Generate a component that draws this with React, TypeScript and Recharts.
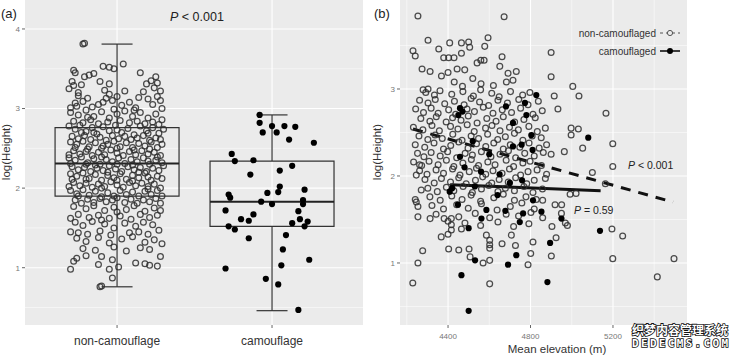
import { ScatterChart, Scatter, XAxis, YAxis, CartesianGrid, ReferenceLine, ReferenceArea } from 'recharts';

// panel (a): groups and box statistics
const groups = ['non-camouflage', 'camouflage'];
const boxLow = [0.76, 0.46];
const boxQ1 = [1.9, 1.52];
const boxMedian = [2.31, 1.83];
const boxQ3 = [2.76, 2.34];
const boxHigh = [3.81, 2.92];

// [jitter, log(Height)]
const nonCamoA: [number, number][] = [
  [-0.22, 3.81], [-0.21, 3.82],
  [0.04, 3.56], [-0.05, 3.52], [-0.09, 3.53], [-0.02, 3.5], [-0.28, 3.48], [-0.27, 3.45], [-0.18, 3.42], [-0.21, 3.4], [-0.15, 3.44], [0.15, 3.45], [0.25, 3.4], [0.22, 3.35], [0.19, 3.31],
  [-0.11, 3.34], [-0.29, 3.34], [-0.28, 3.29], [-0.23, 3.3], [-0.05, 3.31], [0.26, 3.32], [0.24, 3.26], [0.28, 3.22], [0.05, 3.22], [-0.08, 3.23], [0.17, 3.21], [-0.25, 3.2], [-0.31, 3.25],
  [-0.25, 3.16], [-0.19, 3.13], [0, 3.15], [-0.05, 3.18], [0.2, 3.12], [0.28, 3.1], [-0.3, 3.01], [-0.26, 3.03], [-0.27, 3.07], [-0.12, 3.05], [-0.09, 3.08], [-0.03, 3.1], [0.08, 3.08], [0.12, 3.01], [0.23, 3.05], [0.29, 3.0], [-0.16, 3.02], [0.14, 3.14], [-0.22, 3.09], [0.03, 3.04], [0.26, 3.15], [-0.07, 3.13],
  [-0.3, 2.95], [-0.25, 2.92], [-0.2, 2.98], [-0.15, 2.9], [-0.1, 2.96], [-0.05, 2.88], [0, 2.93], [0.05, 2.97], [0.1, 2.9], [0.15, 2.95], [0.2, 2.88], [0.25, 2.93], [0.29, 2.86], [-0.28, 2.84], [-0.22, 2.82], [-0.17, 2.86], [-0.12, 2.81], [-0.06, 2.83], [0.02, 2.85], [0.08, 2.82], [0.13, 2.84], [0.18, 2.81], [0.23, 2.83], [0.27, 2.8], [-0.02, 2.99], [0.11, 2.98], [-0.19, 2.89],
  [-0.31, 2.78], [-0.27, 2.74], [-0.24, 2.79], [-0.2, 2.71], [-0.16, 2.76], [-0.13, 2.68], [-0.09, 2.77], [-0.05, 2.72], [-0.01, 2.79], [0.03, 2.7], [0.07, 2.75], [0.11, 2.67], [0.15, 2.78], [0.19, 2.72], [0.23, 2.76], [0.27, 2.69], [0.3, 2.74], [-0.29, 2.65], [-0.25, 2.62], [-0.21, 2.66], [-0.17, 2.61], [-0.11, 2.64], [-0.07, 2.6], [-0.03, 2.66], [0.01, 2.62], [0.05, 2.65], [0.09, 2.61], [0.13, 2.63], [0.17, 2.66], [0.21, 2.6], [0.25, 2.63], [0.28, 2.61], [-0.15, 2.7], [0, 2.73], [0.2, 2.69], [-0.23, 2.7],
  [-0.3, 2.58], [-0.26, 2.55], [-0.22, 2.59], [-0.18, 2.52], [-0.14, 2.57], [-0.1, 2.5], [-0.06, 2.55], [-0.02, 2.59], [0.02, 2.52], [0.06, 2.57], [0.1, 2.51], [0.14, 2.56], [0.18, 2.53], [0.22, 2.58], [0.26, 2.51], [0.29, 2.55], [-0.28, 2.47], [-0.24, 2.43], [-0.2, 2.46], [-0.16, 2.41], [-0.12, 2.45], [-0.08, 2.42], [-0.04, 2.48], [0, 2.44], [0.04, 2.41], [0.08, 2.46], [0.12, 2.42], [0.16, 2.47], [0.2, 2.43], [0.24, 2.45], [0.28, 2.41], [-0.31, 2.42], [-0.09, 2.53], [0.11, 2.48], [-0.19, 2.49], [0.21, 2.49], [0, 2.5], [-0.27, 2.51],
  [-0.31, 2.38], [-0.27, 2.35], [-0.23, 2.39], [-0.19, 2.32], [-0.15, 2.37], [-0.11, 2.3], [-0.07, 2.36], [-0.03, 2.33], [0.01, 2.38], [0.05, 2.31], [0.09, 2.36], [0.13, 2.33], [0.17, 2.38], [0.21, 2.3], [0.25, 2.35], [0.29, 2.32], [-0.29, 2.27], [-0.25, 2.23], [-0.21, 2.26], [-0.17, 2.21], [-0.13, 2.25], [-0.09, 2.22], [-0.05, 2.28], [-0.01, 2.24], [0.03, 2.21], [0.07, 2.27], [0.11, 2.23], [0.15, 2.26], [0.19, 2.21], [0.23, 2.25], [0.27, 2.22], [0.3, 2.28], [-0.2, 2.3], [0, 2.3], [0.2, 2.34], [-0.1, 2.39], [0.1, 2.29], [-0.3, 2.31], [0.14, 2.2], [-0.14, 2.29], [0.26, 2.39], [-0.06, 2.2],
  [-0.3, 2.18], [-0.26, 2.15], [-0.22, 2.19], [-0.18, 2.12], [-0.14, 2.17], [-0.1, 2.1], [-0.06, 2.16], [-0.02, 2.13], [0.02, 2.18], [0.06, 2.11], [0.1, 2.16], [0.14, 2.13], [0.18, 2.19], [0.22, 2.1], [0.26, 2.15], [0.29, 2.12], [-0.28, 2.07], [-0.24, 2.03], [-0.2, 2.06], [-0.16, 2.01], [-0.12, 2.05], [-0.08, 2.02], [-0.04, 2.08], [0, 2.04], [0.04, 2.01], [0.08, 2.07], [0.12, 2.03], [0.16, 2.06], [0.2, 2.02], [0.24, 2.05], [0.28, 2.0], [-0.31, 2.02], [-0.1, 2.0], [0.1, 2.09], [0.2, 2.14], [-0.2, 2.11], [0, 2.1], [-0.29, 2.11],
  [-0.3, 1.97], [-0.26, 1.93], [-0.22, 1.98], [-0.18, 1.91], [-0.14, 1.96], [-0.1, 1.89], [-0.06, 1.94], [-0.02, 1.9], [0.02, 1.97], [0.06, 1.92], [0.1, 1.95], [0.14, 1.9], [0.18, 1.96], [0.22, 1.92], [0.26, 1.97], [0.29, 1.9], [-0.27, 1.85], [-0.23, 1.81], [-0.19, 1.86], [-0.15, 1.82], [-0.11, 1.87], [-0.07, 1.83], [-0.03, 1.85], [0.05, 1.82], [0.09, 1.86], [0.13, 1.81], [0.17, 1.85], [0.21, 1.83], [0.25, 1.87], [0.28, 1.81], [-0.25, 1.9], [0, 1.88], [0.2, 1.99],
  [-0.28, 1.77], [-0.2, 1.74], [-0.15, 1.78], [-0.08, 1.72], [-0.02, 1.76], [0.06, 1.73], [0.11, 1.78], [0.18, 1.71], [0.24, 1.75], [0.28, 1.72], [-0.25, 1.67], [-0.18, 1.63], [-0.12, 1.66], [-0.05, 1.62], [0.02, 1.65], [0.09, 1.61], [0.15, 1.67], [0.21, 1.63], [0.26, 1.66], [-0.3, 1.62], [0, 1.7], [-0.1, 1.6],
  [-0.27, 1.57], [-0.22, 1.53], [-0.16, 1.58], [-0.08, 1.55], [-0.02, 1.5], [0.05, 1.56], [0.12, 1.52], [0.17, 1.57], [0.23, 1.54], [-0.25, 1.44], [-0.19, 1.42], [-0.11, 1.46], [-0.04, 1.41], [0.08, 1.44], [0.14, 1.45], [0.2, 1.42], [0.27, 1.47], [-0.3, 1.45],
  [-0.26, 1.37], [-0.2, 1.33], [-0.12, 1.38], [-0.05, 1.31], [0.03, 1.36], [0.1, 1.39], [0.18, 1.32], [0.24, 1.35], [0.29, 1.3], [-0.22, 1.24], [-0.14, 1.22], [-0.02, 1.26], [0.06, 1.21], [0.15, 1.25], [0.21, 1.23],
  [-0.26, 1.12], [-0.28, 1.08], [-0.2, 1.15], [-0.1, 1.14], [-0.03, 1.1], [0.12, 1.06], [0.18, 1.05], [0.21, 1.03], [0.28, 1.14], [0.26, 1.02], [-0.12, 1.04], [0.01, 1.01],
  [-0.3, 0.98], [-0.05, 0.98], [-0.03, 0.87], [-0.1, 0.77], [-0.11, 0.76],
];

const camoA: [number, number][] = [
  [-0.08, 2.92], [-0.08, 2.82], [0, 2.78], [0.08, 2.78], [0.15, 2.77], [-0.06, 2.7], [0.03, 2.7], [0.11, 2.61], [0.27, 2.57],
  [-0.26, 2.43], [-0.24, 2.34], [-0.12, 2.35], [0.13, 2.28], [0.05, 2.22], [-0.14, 2.17], [0.05, 2.02], [0.04, 1.95], [-0.03, 1.94],
  [0.21, 1.98], [-0.28, 1.92], [-0.27, 1.88], [-0.07, 1.83], [0, 1.8], [0.2, 1.85], [0.2, 1.8], [-0.3, 1.72], [-0.12, 1.67],
  [-0.2, 1.61], [-0.15, 1.59], [0.17, 1.71], [0.18, 1.61], [0.23, 1.58], [0.13, 1.56], [0.21, 1.52], [-0.28, 1.52], [-0.24, 1.48],
  [-0.15, 1.37], [0.09, 1.41], [0.07, 1.23], [0.24, 1.1], [-0.3, 0.99], [0.06, 1.03], [-0.04, 0.86], [0.04, 0.79], [0.17, 0.47],
];

// panel (b): [Mean elevation (m), log(Height)]
const nonCamoB: [number, number][] = [
  [4254, 3.84], [4672, 3.83], [4303, 3.56], [4230, 3.44], [4241, 3.38], [4355, 3.46], [4408, 3.53], [4465, 3.53], [4500, 3.54], [4505, 3.48], [4465, 3.41], [4594, 3.59], [4578, 3.49], [4379, 3.36], [4403, 3.36], [4429, 3.36], [4559, 3.33], [4575, 3.33], [4541, 3.3], [4662, 3.37], [4651, 3.26], [4274, 3.23], [4313, 3.2], [4444, 3.23], [4481, 3.22], [4400, 3.19], [4368, 3.15], [4691, 3.18], [4731, 3.2], [4683, 3.08], [4715, 3.1], [4279, 2.99], [4303, 3.0], [4520, 3.12], [4560, 3.06], [4620, 3.04], [4430, 3.08], [4470, 3.03],
  [4900, 3.42], [4900, 3.14], [5005, 3.03], [4915, 2.92], [5035, 2.92], [4933, 2.77], [5166, 2.72], [4997, 2.55], [5032, 2.54], [4997, 2.47], [5053, 2.32], [5199, 2.37], [4964, 2.28], [4900, 2.25], [5199, 2.11], [5100, 2.04], [5163, 1.91], [5195, 1.39], [5247, 1.31], [5199, 1.05], [5496, 1.05], [5415, 0.84], [4901, 1.08], [4924, 1.29], [4904, 1.42], [4979, 1.43], [4969, 1.46], [4950, 1.57], [4919, 1.67], [4951, 1.67], [4859, 1.72], [4859, 1.52], [4992, 1.79], [5021, 1.8],
  [4229, 0.77], [4254, 1.0], [4277, 1.14], [4403, 1.16], [4452, 1.15], [4502, 1.16], [4507, 1.07], [4570, 1.0], [4602, 1.03], [4602, 0.76], [4788, 0.98], [4727, 1.2], [4801, 1.11], [4812, 1.24], [4662, 1.22], [4602, 1.21], [4602, 1.26], [4602, 1.17], [4586, 1.32], [4707, 1.32], [4367, 1.3], [4400, 1.33], [4416, 1.38], [4416, 1.44], [4400, 1.48], [4416, 1.51], [4381, 1.51], [4465, 1.39], [4313, 1.51], [4254, 1.53], [4254, 1.65], [4246, 1.7], [4241, 1.73], [4270, 1.84], [4246, 2.01], [4262, 2.13],
  [4292, 2.96], [4334, 2.93], [4361, 2.98], [4418, 2.94], [4472, 2.97], [4523, 2.92], [4558, 2.99], [4612, 2.95], [4648, 2.91], [4703, 2.97], [4762, 2.93], [4797, 2.96],
  [4262, 2.87], [4303, 2.84], [4338, 2.88], [4384, 2.83], [4431, 2.86], [4478, 2.82], [4512, 2.89], [4553, 2.85], [4597, 2.81], [4642, 2.87], [4688, 2.84], [4743, 2.88], [4788, 2.82], [4838, 2.86],
  [4243, 2.77], [4281, 2.73], [4318, 2.78], [4352, 2.72], [4403, 2.76], [4437, 2.71], [4492, 2.77], [4528, 2.74], [4571, 2.79], [4618, 2.72], [4663, 2.76], [4708, 2.73], [4752, 2.78], [4812, 2.71], [4857, 2.75],
  [4268, 2.66], [4312, 2.63], [4343, 2.68], [4391, 2.62], [4422, 2.67], [4463, 2.64], [4498, 2.69], [4541, 2.61], [4588, 2.66], [4633, 2.63], [4668, 2.68], [4723, 2.62], [4768, 2.65], [4823, 2.67],
  [4232, 2.56], [4278, 2.53], [4322, 2.58], [4358, 2.52], [4412, 2.57], [4448, 2.54], [4493, 2.59], [4527, 2.51], [4582, 2.55], [4613, 2.58], [4652, 2.52], [4698, 2.56], [4741, 2.53], [4792, 2.57], [4833, 2.51], [4872, 2.55],
  [4259, 2.46], [4302, 2.42], [4337, 2.47], [4372, 2.43], [4423, 2.48], [4468, 2.41], [4512, 2.46], [4548, 2.43], [4592, 2.48], [4641, 2.42], [4678, 2.45], [4722, 2.49], [4763, 2.41], [4808, 2.46], [4852, 2.44],
  [4241, 2.36], [4287, 2.33], [4332, 2.38], [4378, 2.31], [4413, 2.35], [4452, 2.39], [4497, 2.32], [4538, 2.37], [4583, 2.34], [4622, 2.38], [4668, 2.31], [4702, 2.36], [4748, 2.33], [4793, 2.38], [4842, 2.32], [4878, 2.36],
  [4252, 2.26], [4283, 2.22], [4318, 2.27], [4362, 2.23], [4398, 2.28], [4442, 2.21], [4483, 2.26], [4518, 2.24], [4562, 2.28], [4608, 2.22], [4652, 2.25], [4693, 2.29], [4728, 2.21], [4772, 2.26], [4818, 2.23], [4862, 2.27],
  [4233, 2.16], [4272, 2.12], [4308, 2.17], [4352, 2.13], [4392, 2.18], [4428, 2.11], [4472, 2.15], [4513, 2.19], [4548, 2.12], [4593, 2.16], [4628, 2.13], [4682, 2.18], [4718, 2.11], [4763, 2.15], [4798, 2.17], [4853, 2.12],
  [4262, 2.06], [4298, 2.02], [4342, 2.07], [4378, 2.03], [4422, 2.08], [4458, 2.01], [4503, 2.05], [4538, 2.09], [4583, 2.02], [4618, 2.06], [4662, 2.03], [4698, 2.08], [4752, 2.01], [4788, 2.05], [4832, 2.07], [4878, 2.02],
  [4288, 1.96], [4333, 1.92], [4368, 1.97], [4412, 1.93], [4452, 1.98], [4488, 1.91], [4533, 1.95], [4568, 1.99], [4612, 1.92], [4648, 1.96], [4692, 1.93], [4728, 1.98], [4782, 1.91], [4818, 1.95], [4872, 1.97],
  [4302, 1.86], [4348, 1.82], [4392, 1.87], [4428, 1.83], [4473, 1.88], [4518, 1.81], [4562, 1.85], [4598, 1.89], [4642, 1.82], [4678, 1.86], [4722, 1.83], [4768, 1.88], [4812, 1.81], [4858, 1.85],
  [4312, 1.76], [4362, 1.72], [4418, 1.77], [4468, 1.73], [4512, 1.78], [4558, 1.71], [4622, 1.75], [4668, 1.79], [4722, 1.72], [4778, 1.76], [4828, 1.73],
  [4322, 1.66], [4378, 1.62], [4442, 1.67], [4498, 1.63], [4562, 1.68], [4638, 1.61], [4702, 1.65], [4758, 1.69], [4818, 1.62],
  [4342, 1.56], [4452, 1.53], [4532, 1.57], [4602, 1.52], [4682, 1.56], [4742, 1.54], [4802, 1.58],
  [4482, 1.46], [4558, 1.43], [4642, 1.47], [4718, 1.42], [4792, 1.45],
];

const camoB: [number, number][] = [
  [4828, 2.93], [4773, 2.84], [4681, 2.8], [4458, 2.78], [4470, 2.74], [4450, 2.7], [4780, 2.7], [4715, 2.61], [5080, 2.44],
  [4804, 2.47], [4757, 2.36], [4715, 2.34], [4810, 2.3], [4458, 2.22], [4520, 2.4], [4600, 2.25], [4480, 2.1], [4560, 2.05],
  [4650, 2.02], [4759, 1.95], [4408, 1.82], [4420, 1.86], [4530, 1.88], [4700, 1.92], [4448, 1.67], [4812, 1.72], [4640, 1.78],
  [4586, 1.61], [4678, 1.6], [4853, 1.59], [4764, 1.57], [4562, 1.51], [4950, 1.51], [4748, 1.47], [4500, 1.4], [5137, 1.37],
  [4895, 1.23], [4731, 1.09], [4531, 1.03], [4691, 0.98], [4465, 0.86], [4882, 0.78], [4500, 0.45],
];

// fitted lines: [start, end] as [elevation, log(Height)]
const nonCamoFit: [number, number][] = [[4230, 2.54], [5491, 1.7]];
const camoFit: [number, number][] = [[4410, 1.9], [5140, 1.83]];

const font = "'Liberation Sans', Arial, sans-serif";
const bg = '#ebebeb';

const OpenDot = (p: any) => <circle cx={p.cx} cy={p.cy} r={2.9} fill="none" stroke="#2e2e2e" strokeWidth={1.25} strokeOpacity={0.85} />;
const FillDot = (p: any) => <circle cx={p.cx} cy={p.cy} r={3.1} fill="#000" />;

const smallTick = { fontSize: 8, fill: '#777', fontFamily: font };

export default function App() {
  const aNon = nonCamoA.map(([j, h]) => ({ x: 1 + j, y: h }));
  const aCamo = camoA.map(([j, h]) => ({ x: 2 + j, y: h }));
  const bNon = nonCamoB.map(([e, h]) => ({ x: e, y: h }));
  const bCamo = camoB.map(([e, h]) => ({ x: e, y: h }));

  return (
    <div style={{ position: 'fixed', left: 0, top: 0, width: 740, height: 357, background: '#fff' }}>
      <div style={{ position: 'absolute', left: 0, top: 0 }}>
        <ScatterChart width={370} height={357} margin={{ top: 0, right: 7, bottom: 0, left: 0 }}>
          <CartesianGrid fill={bg} fillOpacity={1} stroke="#fff" strokeWidth={0.5}
            horizontalValues={[0.5, 1.5, 2.5, 3.5]} verticalValues={[]} vertical={false} />
          <CartesianGrid stroke="#fff" strokeWidth={1.1}
            horizontalValues={[1, 2, 3, 4]} verticalValues={[1, 2]} />
          <XAxis type="number" dataKey="x" domain={[0.406, 2.587]} ticks={[1, 2]} allowDataOverflow
            tickFormatter={(v: number) => groups[Math.round(v) - 1]} height={32} axisLine={false}
            tickSize={3} tickMargin={8} tickLine={{ stroke: '#666' }}
            tick={{ fontSize: 12, fill: '#333', fontFamily: font }} />
          <YAxis type="number" dataKey="y" domain={[0.28, 4.364]} ticks={[1, 2, 3, 4]} allowDataOverflow
            width={25} axisLine={false} tickSize={3} tickMargin={2} tickLine={{ stroke: '#666' }} tick={smallTick} />
          <Scatter data={aNon} shape={OpenDot} isAnimationActive={false} />
          <Scatter data={aCamo} shape={FillDot} isAnimationActive={false} />
          {groups.map((g, i) => {
            const c = i + 1;
            return [
              <ReferenceArea key={g + 'box'} x1={c - 0.4} x2={c + 0.4} y1={boxQ1[i]} y2={boxQ3[i]}
                fill="none" fillOpacity={0} stroke="#333" strokeWidth={1.2} />,
              <ReferenceLine key={g + 'med'} segment={[{ x: c - 0.4, y: boxMedian[i] }, { x: c + 0.4, y: boxMedian[i] }]} stroke="#222" strokeWidth={2} />,
              <ReferenceLine key={g + 'wu'} segment={[{ x: c, y: boxQ3[i] }, { x: c, y: boxHigh[i] }]} stroke="#333" strokeWidth={1.2} />,
              <ReferenceLine key={g + 'wl'} segment={[{ x: c, y: boxLow[i] }, { x: c, y: boxQ1[i] }]} stroke="#333" strokeWidth={1.2} />,
              <ReferenceLine key={g + 'cu'} segment={[{ x: c - 0.1, y: boxHigh[i] }, { x: c + 0.1, y: boxHigh[i] }]} stroke="#333" strokeWidth={1.2} />,
              <ReferenceLine key={g + 'cl'} segment={[{ x: c - 0.1, y: boxLow[i] }, { x: c + 0.1, y: boxLow[i] }]} stroke="#333" strokeWidth={1.2} />,
            ];
          })}
        </ScatterChart>
      </div>

      <div style={{ position: 'absolute', left: 370, top: 0 }}>
        <ScatterChart width={370} height={357} margin={{ top: 0, right: 53, bottom: 0, left: 0 }}>
          <CartesianGrid fill={bg} fillOpacity={1} stroke="#fff" strokeWidth={0.5}
            horizontalValues={[0.5, 1.5, 2.5, 3.5]} verticalValues={[4200, 4600, 5000, 5400]} />
          <CartesianGrid stroke="#fff" strokeWidth={1.1}
            horizontalValues={[1, 2, 3]} verticalValues={[4400, 4800, 5200]} />
          <XAxis type="number" dataKey="x" domain={[4167, 5559]} ticks={[4400, 4800, 5200]} allowDataOverflow
            height={32} axisLine={false} tickSize={3} tickMargin={5} tickLine={{ stroke: '#666' }} tick={smallTick} />
          <YAxis type="number" dataKey="y" domain={[0.287, 4.023]} ticks={[1, 2, 3]} allowDataOverflow
            width={30} axisLine={false} tickSize={3} tickMargin={2} tickLine={{ stroke: '#666' }} tick={smallTick} />
          <Scatter data={bNon} shape={OpenDot} isAnimationActive={false} />
          <Scatter data={bCamo} shape={FillDot} isAnimationActive={false} />
          <ReferenceLine segment={nonCamoFit.map(([x, y]) => ({ x, y }))} stroke="#111" strokeWidth={3} strokeDasharray="10 8" />
          <ReferenceLine segment={camoFit.map(([x, y]) => ({ x, y }))} stroke="#111" strokeWidth={3} />
        </ScatterChart>
      </div>

      <svg width={740} height={357} style={{ position: 'absolute', left: 0, top: 0, pointerEvents: 'none' }} fontFamily={font}>
        <text x={1} y={13} fontSize={13} fill="#222" dominantBaseline="central">(a)</text>
        <text x={374} y={13} fontSize={13} fill="#222" dominantBaseline="central">(b)</text>
        <text x={6} y={152} fontSize={11.5} fill="#333" textAnchor="middle" dominantBaseline="central" transform="rotate(-90 6 152)">log(Height)</text>
        <text x={377} y={152} fontSize={11.5} fill="#333" textAnchor="middle" dominantBaseline="central" transform="rotate(-90 377 152)">log(Height)</text>
        <text x={557} y={349} fontSize={11.5} fill="#333" textAnchor="middle" dominantBaseline="central">Mean elevation (m)</text>

        <text x={170} y={17} fontSize={12.5} fill="#222" dominantBaseline="central">
          <tspan fontStyle="italic">P</tspan> {'< 0.001'}
        </text>
        <text x={628} y={165} fontSize={10.5} fill="#222" dominantBaseline="central">
          <tspan fontStyle="italic">P</tspan> {'< 0.001'}
        </text>
        <text x={574} y={210} fontSize={10.5} fill="#222" dominantBaseline="central">
          <tspan fontStyle="italic">P</tspan> {'= 0.59'}
        </text>

        <text x={656} y={33} fontSize={10} fill="#333" textAnchor="end" dominantBaseline="central">non-camouflaged</text>
        <line x1={660} x2={680} y1={33} y2={33} stroke="#555" strokeWidth={1.2} strokeDasharray="3 3" />
        <circle cx={670} cy={33} r={2.6} fill={bg} stroke="#555" strokeWidth={1} />
        <text x={656} y={51} fontSize={10} fill="#333" textAnchor="end" dominantBaseline="central">camouflaged</text>
        <line x1={660} x2={680} y1={51} y2={51} stroke="#111" strokeWidth={1.6} />
        <circle cx={670} cy={51} r={3} fill="#000" />

        <text x={632} y={329} fontSize={12} fontWeight="bold" fill="#fff" stroke="#111" strokeWidth={1.6}
          paintOrder="stroke" dominantBaseline="central" textLength={96} fontFamily="'Noto Sans CJK SC', sans-serif">织梦内容管理系统</text>
        <text x={632} y={343} fontSize={11} fontWeight="bold" fill="#fff" stroke="#111" strokeWidth={1.6}
          paintOrder="stroke" dominantBaseline="central" textLength={96} fontFamily="'DejaVu Sans Mono', monospace">DEDECMS.COM</text>
      </svg>
    </div>
  );
}
